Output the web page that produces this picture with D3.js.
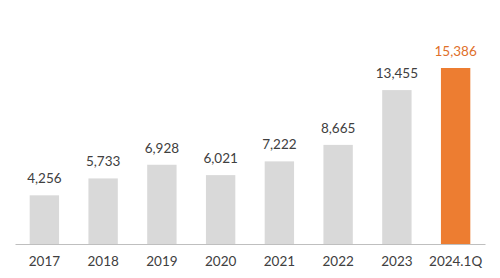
<!DOCTYPE html>
<html><head><meta charset="utf-8">
<script src="https://cdn.jsdelivr.net/npm/d3@7"></script>
<style>body{margin:0;background:#fff}svg{display:block}</style>
</head><body>
<script>
const categories = ["2017","2018","2019","2020","2021","2022","2023","2024.1Q"];
const values = [4256,5733,6928,6021,7222,8665,13455,15386];
const highlight = ["2024.1Q"];

const W = 500, H = 278;
const svg = d3.select("body").append("svg").attr("width", W).attr("height", H);
const x = d3.scaleBand().domain(categories).range([15, 485]).paddingInner(0.5).paddingOuter(0.25);
const y = d3.scaleLinear().domain([0, 15386]).range([244, 68]);
const fmt = d3.format(",");

svg.selectAll("rect.bar").data(categories).enter().append("rect")
  .attr("x", d => x(d)).attr("width", x.bandwidth())
  .attr("y", (d,i) => y(values[i])).attr("height", (d,i) => y(0) - y(values[i]))
  .attr("fill", d => highlight.includes(d) ? "#ED7D31" : "#D9D9D9");

const axis = svg.append("g").attr("transform", "translate(0,244)")
  .call(d3.axisBottom(x).tickSize(0).tickPadding(12));
axis.select(".domain").attr("stroke", "#BFBFBF").attr("stroke-width", 1.2);
axis.selectAll("text").attr("font-family", "Lato, 'Open Sans', sans-serif").attr("font-size", 13.5).attr("fill", "#404040");

svg.selectAll("text.val").data(categories).enter().append("text")
  .attr("x", d => x(d) + x.bandwidth()/2)
  .attr("y", (d,i) => y(values[i]) - 12)
  .attr("text-anchor", "middle")
  .attr("font-family", "Lato, 'Open Sans', sans-serif").attr("font-size", 13.5)
  .attr("fill", d => highlight.includes(d) ? "#E0702A" : "#404040")
  .text((d,i) => fmt(values[i]));
</script>
</body></html>
